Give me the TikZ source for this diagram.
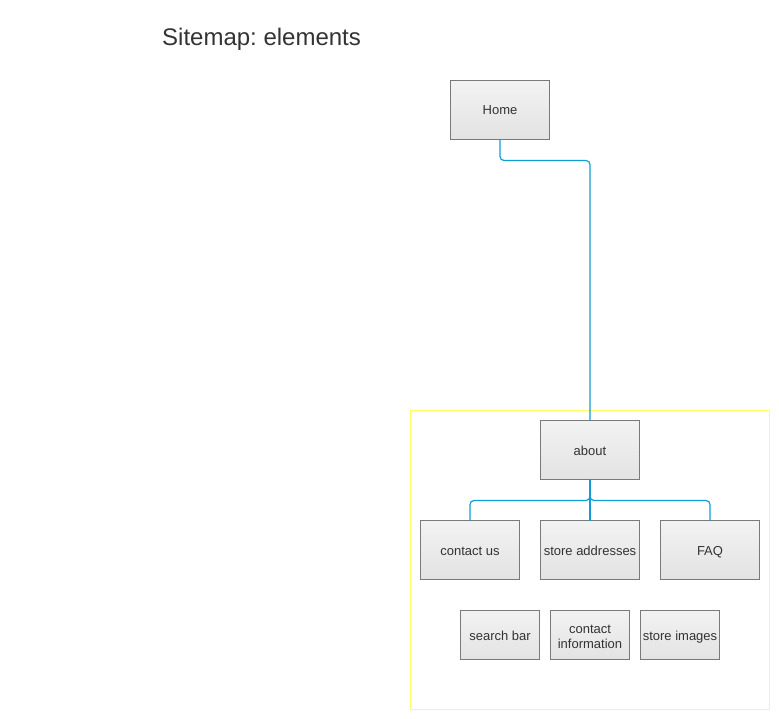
\documentclass[tikz,border=0pt]{standalone}
\usepackage{fontspec}
\setmainfont{Liberation Sans}
\usepackage{tikz}
\usetikzlibrary{positioning, calc}
\definecolor{linkblue}{RGB}{18,156,212}
\definecolor{boxline}{RGB}{122,122,122}
\definecolor{boxtext}{RGB}{51,51,51}
\definecolor{framey}{RGB}{255,255,102}
\frenchspacing

\begin{document}
\begin{tikzpicture}[x=1pt, y=-1pt,
    page/.style={draw=boxline, line width=1pt, top color=black!5, bottom color=black!11,
      text=boxtext, font=\fontsize{13}{15}\selectfont, align=center,
      text height=11pt, text depth=1pt,
      minimum width=99pt, minimum height=59pt, inner sep=0pt, outer sep=0pt},
    small page/.style={page, minimum width=79pt, minimum height=49pt},
    link/.style={draw=linkblue, line width=1.2pt, rounded corners=4pt}]
  \useasboundingbox (0,0) rectangle (779,719);

  \node [anchor=base west, inner sep=0pt, text=boxtext, font=\fontsize{24}{28}\selectfont] (title) at (162,46) {Sitemap: elements};

  % group frame
  \draw [framey, line width=1pt] (410.5,410.5) rectangle (769.5,709.5);

  \node [page] at (500,110) (home) {Home};
  \node [page] at (590,450) (about) {about};
  \node [page, below=41pt of about] (addr) {store addresses};
  \node [page, left=21pt of addr] (contact) {contact us};
  \node [page, right=21pt of addr] (faq) {FAQ};
  \node [small page, below=31pt of addr, text height=28pt] (info) {contact\\information};
  \node [small page, left=11pt of info] (search) {search bar};
  \node [small page, right=11pt of info] (images) {store images};

  \draw [link] (home.south) -- ([yshift=-21pt]home.south) -| (about.north);
  \draw [link] (about.south) -- ([yshift=-21pt]about.south) -| (contact.north);
  \draw [link] (about.south) -- ([yshift=-21pt]about.south) -| (faq.north);
  \draw [link] (about.south) -- (addr.north);
\end{tikzpicture}
\end{document}
